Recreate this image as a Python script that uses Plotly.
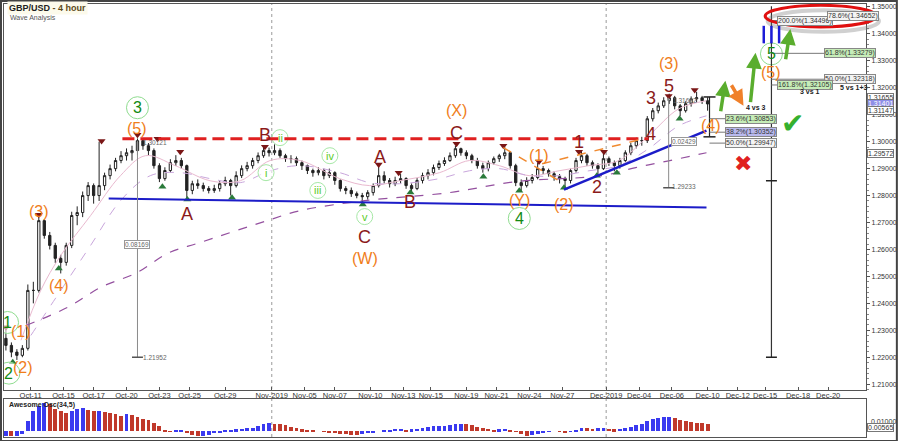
import plotly.graph_objects as go

# ---------------- data ----------------
# bar index is in 4-hour units; one candle is drawn every 8 hours
bar_idx = list(range(0, 258, 2))
first_open = 1.2270
close = [1.2244,1.2219,1.2207,1.2233,1.2448,1.2448,1.2707,1.2652,1.2615,1.2567,
         1.2552,1.2615,1.2726,1.2737,1.2800,1.2837,1.2800,1.2837,1.2874,1.2900,
         1.2930,1.2948,1.2959,1.2967,1.3004,1.2985,1.2967,1.2911,1.2863,1.2893,
         1.2922,1.2930,1.2911,1.2819,1.2844,1.2837,1.2826,1.2819,1.2826,1.2844,
         1.2856,1.2837,1.2874,1.2900,1.2911,1.2930,1.2948,1.2967,1.2959,1.2967,
         1.2948,1.2937,1.2937,1.2922,1.2911,1.2893,1.2885,1.2893,1.2874,1.2885,
         1.2856,1.2826,1.2819,1.2807,1.2800,1.2796,1.2811,1.2837,1.2874,1.2856,
         1.2844,1.2856,1.2863,1.2837,1.2826,1.2856,1.2874,1.2885,1.2904,1.2919,
         1.2930,1.2948,1.2974,1.2959,1.2948,1.2930,1.2911,1.2900,1.2922,1.2937,
         1.2948,1.2959,1.2911,1.2848,1.2837,1.2856,1.2867,1.2900,1.2893,1.2881,
         1.2870,1.2863,1.2856,1.2893,1.2930,1.2948,1.2922,1.2911,1.2900,1.2937,
         1.2922,1.2911,1.2930,1.2959,1.2985,1.3004,1.3004,1.3085,1.3115,1.3133,
         1.3152,1.3163,1.3133,1.3115,1.3141,1.3159,1.3163,1.3152,1.3140]
high = [1.2305,1.2255,1.2230,1.2245,1.2470,1.2480,1.2719,1.2712,1.2665,1.2625,
        1.2580,1.2625,1.2740,1.2760,1.2815,1.2850,1.2845,1.3000,1.2885,1.2915,
        1.2940,1.2965,1.2975,1.2985,1.3012,1.3010,1.2995,1.2975,1.2920,1.2905,
        1.2935,1.2950,1.2940,1.2915,1.2855,1.2860,1.2848,1.2835,1.2840,1.2855,
        1.2870,1.2862,1.2890,1.2912,1.2925,1.2940,1.2960,1.2985,1.2978,1.2990,
        1.2975,1.2955,1.2950,1.2945,1.2930,1.2915,1.2900,1.2905,1.2900,1.2900,
        1.2890,1.2860,1.2835,1.2830,1.2815,1.2810,1.2820,1.2845,1.2918,1.2890,
        1.2865,1.2870,1.2880,1.2868,1.2845,1.2865,1.2885,1.2898,1.2915,1.2930,
        1.2942,1.2960,1.2985,1.2978,1.2968,1.2955,1.2940,1.2922,1.2930,1.2945,
        1.2955,1.2980,1.2965,1.2918,1.2860,1.2868,1.2880,1.2922,1.2910,1.2900,
        1.2890,1.2880,1.2870,1.2900,1.2940,1.2967,1.2955,1.2930,1.2920,1.2965,
        1.2945,1.2930,1.2940,1.2968,1.2995,1.3015,1.3018,1.3095,1.3125,1.3145,
        1.3165,1.3178,1.3170,1.3140,1.3150,1.3168,1.3185,1.3170,1.3165]
low = [1.2225,1.2200,1.2190,1.2200,1.2225,1.2400,1.2440,1.2640,1.2600,1.2550,
       1.2511,1.2540,1.2605,1.2690,1.2720,1.2780,1.2770,1.2780,1.2820,1.2860,
       1.2890,1.2920,1.2930,1.2930,1.2950,1.2970,1.2950,1.2900,1.2850,1.2855,
       1.2885,1.2910,1.2900,1.2790,1.2805,1.2825,1.2815,1.2808,1.2810,1.2815,
       1.2835,1.2800,1.2830,1.2865,1.2890,1.2900,1.2920,1.2940,1.2945,1.2950,
       1.2940,1.2925,1.2920,1.2910,1.2895,1.2880,1.2870,1.2875,1.2860,1.2865,
       1.2840,1.2815,1.2805,1.2795,1.2790,1.2770,1.2785,1.2800,1.2830,1.2845,
       1.2830,1.2835,1.2845,1.2825,1.2810,1.2820,1.2845,1.2860,1.2875,1.2895,
       1.2910,1.2925,1.2940,1.2948,1.2935,1.2920,1.2900,1.2885,1.2890,1.2915,
       1.2925,1.2935,1.2900,1.2835,1.2815,1.2830,1.2845,1.2860,1.2880,1.2870,
       1.2855,1.2845,1.2830,1.2845,1.2885,1.2920,1.2910,1.2900,1.2880,1.2895,
       1.2910,1.2890,1.2900,1.2925,1.2950,1.2975,1.2985,1.2995,1.3075,1.3105,
       1.3125,1.3140,1.3120,1.3095,1.3108,1.3130,1.3145,1.3140,1.3115]

ao = [-0.0035,-0.0038,-0.0035,-0.0020,0.0077,0.0147,0.0185,0.0203,0.0198,0.0165,
      0.0147,0.0133,0.0150,0.0165,0.0168,0.0156,0.0147,0.0147,0.0140,0.0130,
      0.0122,0.0112,0.0126,0.0115,0.0105,0.0092,0.0080,0.0063,0.0035,0.0005,
      -0.0003,0.0004,0.0005,-0.0016,-0.0028,-0.0038,-0.0037,-0.0025,-0.0013,-0.0010,
      0.0002,0.0007,0.0013,0.0018,0.0020,0.0026,0.0040,0.0052,0.0058,0.0056,
      0.0054,0.0044,0.0033,0.0024,0.0014,0.0006,0.0002,0.0000,-0.0004,-0.0008,
      -0.0013,-0.0017,-0.0022,-0.0029,-0.0030,-0.0024,-0.0016,-0.0010,0.0000,0.0006,
      0.0010,0.0015,0.0016,0.0012,0.0014,0.0018,0.0022,0.0030,0.0035,0.0037,
      0.0038,0.0042,0.0049,0.0054,0.0050,0.0042,0.0034,0.0026,0.0016,0.0012,
      0.0014,0.0015,0.0007,-0.0005,-0.0020,-0.0035,-0.0030,-0.0022,-0.0015,-0.0005,
      0.0000,-0.0006,-0.0008,-0.0004,0.0007,0.0026,0.0024,0.0019,0.0023,0.0024,
      0.0019,0.0014,0.0016,0.0024,0.0032,0.0042,0.0054,0.0072,0.0088,0.0097,
      0.0101,0.0105,0.0094,0.0084,0.0077,0.0066,0.0060,0.0057,0.0054]

tick_pos = [9, 21, 32, 44, 56, 67, 80, 97, 109, 120, 133, 145, 155, 168, 179,
            191, 203, 219, 231, 243, 256, 267, 277, 289, 300]
tick_text = ["Oct-11", "Oct-15", "Oct-17", "Oct-20", "Oct-23", "Oct-25", "Oct-29",
             "Nov-2019", "Nov-05", "Nov-07", "Nov-10", "Nov-13", "Nov-15", "Nov-19",
             "Nov-21", "Nov-24", "Nov-27", "Dec-2019", "Dec-04", "Dec-06", "Dec-10",
             "Dec-12", "Dec-15", "Dec-18", "Dec-20"]
price_ticks = [1.21, 1.22, 1.23, 1.24, 1.25, 1.26, 1.27, 1.28, 1.29, 1.30,
               1.31, 1.32, 1.33, 1.34, 1.35]
month_starts = [97, 219]

# moving averages
ma_slow_x = [7.3, 22.5, 34.5, 48, 58.9, 70.9, 95.3, 107.3, 130.9, 161.8, 186.2, 217.5, 229.8, 241.8, 255.6]
ma_slow_y = [1.2318, 1.2385, 1.2459, 1.2515, 1.2585, 1.2626, 1.2707, 1.2744, 1.2781, 1.2811,
             1.2852, 1.2874, 1.2904, 1.2929, 1.2959]
ma_fast_x = [5.5, 12.7, 20, 30.9, 41.8, 50.9, 61.8, 74.5, 85.5, 96.4, 107.3, 121.8, 132.7,
             143.6, 158.2, 169.1, 180, 190.9, 201.8, 212.7, 223.6, 234.5, 245.5, 255.6]
ma_fast_y = [1.2263, 1.2448, 1.2578, 1.2726, 1.2874, 1.2948, 1.2911, 1.2855, 1.2855, 1.2930,
             1.2930, 1.2863, 1.2837, 1.2855, 1.2885, 1.2930, 1.2911, 1.2874, 1.2892, 1.2911,
             1.2930, 1.3022, 1.3122, 1.3152]
ma_mid_x = [9.1, 20, 30.9, 41.8, 52.7, 63.6, 74.5, 85.5, 96.4, 107.3, 121.8, 132.7, 143.6,
            158.2, 169.1, 180, 190.9, 201.8, 212.7, 223.6, 234.5, 245.5, 255.6]
ma_mid_y = [1.2281, 1.2448, 1.2615, 1.2781, 1.2874, 1.2885, 1.2863, 1.2848, 1.2892, 1.2911,
            1.2885, 1.2848, 1.2844, 1.2863, 1.2892, 1.2900, 1.2874, 1.2874, 1.2892, 1.2911,
            1.2974, 1.3059, 1.3096]

# swing markers
peak_x = [0, 12, 34.9, 48, 55.3, 63.6, 94.5, 136, 143.3, 164.4, 181.5, 194.5, 209.1, 218.2, 241.8, 251.3]
peak_y = [1.2311, 1.2729, 1.3003, 1.3026, 1.3011, 1.2963, 1.2981, 1.2915, 1.2885, 1.2992,
          1.2985, 1.2926, 1.2963, 1.2963, 1.3170, 1.3192]
trough_x = [2.5, 19.3, 57.1, 66.2, 82.5, 130.2, 147.6, 174.2, 187.3, 203.6, 215.6, 222.9, 245.8]
trough_y = [1.2181, 1.2529, 1.2833, 1.2785, 1.2792, 1.2767, 1.2811, 1.2870, 1.2818, 1.2829,
            1.2874, 1.2885, 1.3085]

# wave labels
big_green_text = ["1", "2", "3", "4", "5"]
big_green_x = [0.6, 1.1, 48, 187.3, 279.3]
big_green_y = [1.2329, 1.2141, 1.3126, 1.2715, 1.3326]
small_green_text = ["i", "ii", "iii", "iv", "v"]
small_green_x = [94.9, 100, 113.8, 118.2, 130.9]
small_green_y = [1.2885, 1.3015, 1.2819, 1.2948, 1.2722]
orange_text = ["(1)", "(2)", "(3)", "(4)", "(5)", "(X)", "(W)", "(Y)", "(1)", "(2)", "(3)", "(4)", "(5)"]
orange_x = [5.5, 6.2, 12, 19.3, 48, 164.4, 130.9, 187.3, 194.5, 203.6, 241.8, 257.1, 279.3]
orange_y = [1.2296, 1.2163, 1.2740, 1.2466, 1.3048, 1.3115, 1.2566, 1.2781, 1.2948, 1.2766,
            1.3292, 1.3059, 1.3256]
red_text = ["A", "B", "C", "A", "B", "C", "1", "2", "3", "4", "5"]
red_x = [66.2, 94.5, 164.4, 136.4, 147.6, 130.9, 209.1, 215.6, 235.3, 235.3, 241.8]
red_y = [1.2733, 1.3026, 1.3033, 1.2944, 1.2778, 1.2648, 1.2999, 1.2833, 1.3163, 1.3029, 1.3207]

# fibonacci boxes
fib_text = ["200.0%(1.34496)", "78.6%(1.34652)", "61.8%(1.33279)", "50.0%(1.32318)",
            "161.8%(1.32105)", "23.6%(1.30853)", "38.2%(1.30352)", "50.0%(1.29947)"]
fib_level = [1.34496, 1.34652, 1.33279, 1.32318, 1.32105, 1.30853, 1.30352, 1.29947]
fib_x = [281.5, 299.6, 298.5, 298.5, 281.5, 262.5, 262.5, 262.5]
fib_from = [279.3, 299.6, 279.3, 279.3, 279.3, 256.7, 256.7, 256.7]
fib_bg = ["#f4f4f4", "#f4f4f4", "#c6edb8", "#f4f4f4", "#c6edb8", "#c6edb8", "#b9b9ee", "#f4f4f4"]

# key lines
resistance = 1.3011
support_x = [37.5, 255.6]
support_y = [1.2789, 1.2756]
rising_x = [203.6, 255.6]
rising_y = [1.2822, 1.3041]
orange_down_x = [181.5, 203.6]
orange_down_y = [1.2978, 1.2844]
orange_up_x = [195.6, 232.7]
orange_up_y = [1.2918, 1.3011]

right_tags = ["1.31655", "1.31401", "1.31147", "1.29572"]
right_tag_y = [1.31655, 1.31401, 1.31147, 1.29572]

# ---------------- figure ----------------
opens = [first_open] + close[:-1]
fig = go.Figure()

fig.add_trace(go.Candlestick(
    x=bar_idx, open=opens, high=high, low=low, close=close,
    increasing=dict(line=dict(color="#222222", width=1), fillcolor="#ffffff"),
    decreasing=dict(line=dict(color="#222222", width=1), fillcolor="#222222"),
    whiskerwidth=0, showlegend=False, hoverinfo="skip", xaxis="x", yaxis="y"))

fig.add_trace(go.Scatter(x=ma_fast_x, y=ma_fast_y, mode="lines", line=dict(color="#e9b9cf", width=1, shape="spline"),
                         showlegend=False, hoverinfo="skip"))
fig.add_trace(go.Scatter(x=ma_mid_x, y=ma_mid_y, mode="lines",
                         line=dict(color="#c9a6dc", width=1, dash="dash", shape="spline"),
                         showlegend=False, hoverinfo="skip"))
fig.add_trace(go.Scatter(x=ma_slow_x, y=ma_slow_y, mode="lines",
                         line=dict(color="#94509f", width=1.2, dash="dash", shape="spline"),
                         showlegend=False, hoverinfo="skip"))

# AO histogram
ao_colors = ["#3a3af0"] + ["#3a3af0" if ao[i] >= ao[i - 1] else "#c0392b" for i in range(1, len(ao))]
fig.add_trace(go.Bar(x=bar_idx, y=ao, marker=dict(color=ao_colors, line=dict(width=0)), width=1.4,
                     xaxis="x2", yaxis="y2", showlegend=False, hoverinfo="skip"))

shapes = []
# month separators
for m in month_starts:
    shapes.append(dict(type="line", xref="x", yref="paper", x0=m, x1=m, y0=0, y1=1,
                       line=dict(color="#9a9a9a", width=1, dash="dot"), layer="below"))
# resistance
shapes.append(dict(type="line", xref="x", yref="y", x0=42.5, x1=234.5, y0=resistance, y1=resistance,
                   line=dict(color="#e02020", width=3, dash="12px,6px")))
shapes.append(dict(type="line", xref="x", yref="y", x0=support_x[0], x1=support_x[1], y0=support_y[0], y1=support_y[1],
                   line=dict(color="#1c1cc8", width=2)))
shapes.append(dict(type="line", xref="x", yref="y", x0=rising_x[0], x1=rising_x[1], y0=rising_y[0], y1=rising_y[1],
                   line=dict(color="#1c1cc8", width=2.5)))
shapes.append(dict(type="line", xref="x", yref="y", x0=orange_down_x[0], x1=orange_down_x[1],
                   y0=orange_down_y[0], y1=orange_down_y[1], line=dict(color="#f08a30", width=1.5, dash="dash")))
shapes.append(dict(type="line", xref="x", yref="y", x0=orange_up_x[0], x1=orange_up_x[1],
                   y0=orange_up_y[0], y1=orange_up_y[1], line=dict(color="#f08a30", width=1.5, dash="dash")))
# measurement lines
shapes.append(dict(type="line", xref="x", yref="y", x0=48, x1=48, y0=1.3003, y1=1.2200,
                   line=dict(color="#8a8a8a", width=1)))
shapes.append(dict(type="line", xref="x", yref="y", x0=46, x1=50, y0=1.2200, y1=1.2200,
                   line=dict(color="#555", width=1.5)))
shapes.append(dict(type="line", xref="x", yref="y", x0=241.8, x1=241.8, y0=1.3163, y1=1.2829,
                   line=dict(color="#8a8a8a", width=1)))
shapes.append(dict(type="line", xref="x", yref="y", x0=239.8, x1=243.8, y0=1.2829, y1=1.2829,
                   line=dict(color="#555", width=1.5)))
shapes.append(dict(type="line", xref="x", yref="y", x0=279.3, x1=279.3, y0=1.3503, y1=1.2200,
                   line=dict(color="#333", width=1.2)))
for lv in [1.2855, 1.2200]:
    shapes.append(dict(type="line", xref="x", yref="y", x0=277.3, x1=281.3, y0=lv, y1=lv,
                       line=dict(color="#222", width=1.5)))
shapes.append(dict(type="line", xref="x", yref="y", x0=256.7, x1=256.7, y0=1.3166, y1=1.3018,
                   line=dict(color="#222", width=1.2)))
for lv in [1.3166, 1.3018]:
    shapes.append(dict(type="line", xref="x", yref="y", x0=254.5, x1=258.9, y0=lv, y1=lv,
                       line=dict(color="#222", width=1.5)))
for fx0, fx1, fl in zip(fib_from, fib_x, fib_level):
    if fx1 > fx0:
        shapes.append(dict(type="line", xref="x", yref="y", x0=fx0, x1=fx1, y0=fl, y1=fl,
                           line=dict(color="#777", width=1)))
# red ellipse with shadow
shapes.append(dict(type="circle", xref="paper", yref="y", x0=0.886, x1=1.015, y0=1.3408, y1=1.3488,
                   line=dict(color="rgba(120,120,120,0.35)", width=4)))
shapes.append(dict(type="circle", xref="paper", yref="y", x0=0.883, x1=1.012, y0=1.3426, y1=1.3506,
                   line=dict(color="#e01010", width=3)))
# blue III
for bx in [276.5, 279.3, 282.1]:
    shapes.append(dict(type="line", xref="x", yref="y", x0=bx, x1=bx, y0=1.3365, y1=1.3430,
                       line=dict(color="#1c1cd8", width=2.5)))

# markers
fig.add_trace(go.Scatter(x=peak_x, y=peak_y, mode="markers",
                         marker=dict(symbol="triangle-down", size=7, color="#7a1616"),
                         showlegend=False, hoverinfo="skip"))
fig.add_trace(go.Scatter(x=trough_x, y=trough_y, mode="markers",
                         marker=dict(symbol="triangle-up", size=7, color="#2a7a3a"),
                         showlegend=False, hoverinfo="skip"))
fig.add_trace(go.Scatter(x=big_green_x, y=big_green_y, mode="markers",
                         marker=dict(symbol="circle", size=22, color="rgba(255,255,255,0.6)",
                                     line=dict(color="#8fdc8f", width=1)),
                         showlegend=False, hoverinfo="skip"))
fig.add_trace(go.Scatter(x=small_green_x, y=small_green_y, mode="markers",
                         marker=dict(symbol="circle", size=16, color="rgba(255,255,255,0.6)",
                                     line=dict(color="#a6e8a6", width=1)),
                         showlegend=False, hoverinfo="skip"))

ann = []
F = "Liberation Sans, Arial, sans-serif"
for t, x, y in zip(big_green_text, big_green_x, big_green_y):
    ann.append(dict(x=x, y=y, xref="x", yref="y", text=t, showarrow=False,
                    font=dict(family=F, size=16, color="#138a13")))
for t, x, y in zip(small_green_text, small_green_x, small_green_y):
    ann.append(dict(x=x, y=y, xref="x", yref="y", text=t, showarrow=False,
                    font=dict(family=F, size=11, color="#5ccc2a")))
for t, x, y in zip(orange_text, orange_x, orange_y):
    ann.append(dict(x=x, y=y, xref="x", yref="y", text=t, showarrow=False,
                    font=dict(family=F, size=16, color="#f07d1a")))
for t, x, y in zip(red_text, red_x, red_y):
    ann.append(dict(x=x, y=y, xref="x", yref="y", text=t, showarrow=False,
                    font=dict(family=F, size=18, color="#8b1a1a")))
for t, x, y, bg in zip(fib_text, fib_x, fib_level, fib_bg):
    ann.append(dict(x=x, y=y, xref="x", yref="y", text=t, showarrow=False, xanchor="left",
                    font=dict(family=F, size=7, color="#333"), bgcolor=bg,
                    bordercolor="#888", borderwidth=1, borderpad=0))
# measurement labels
small_lbl = [("0.08169", 48, 1.2618, True), ("1.21952", 50, 1.2200, False),
             ("1.30121", 50, 1.2996, False), ("0.02429", 242.5, 1.2999, True),
             ("1.29233", 243, 1.2833, False), ("1.31662", 243.5, 1.3152, False)]
for t, x, y, boxed in small_lbl:
    ann.append(dict(x=x, y=y, xref="x", yref="y", text=t, showarrow=False,
                    xanchor="center" if t == "0.08169" else "left",
                    font=dict(family=F, size=6.5, color="#666"),
                    bgcolor="#ffffff" if boxed else None,
                    bordercolor="#999" if boxed else None, borderwidth=1 if boxed else 0, borderpad=0))
ann.append(dict(x=293.5, y=1.3185, xref="x", yref="y", text="<b>3 vs 1</b>", showarrow=False,
                font=dict(family=F, size=7, color="#222")))
ann.append(dict(x=273.5, y=1.3128, xref="x", yref="y", text="<b>4 vs 3</b>", showarrow=False,
                font=dict(family=F, size=7, color="#222")))
ann.append(dict(x=0.9676, y=1.3200, xref="paper", yref="y", xanchor="left", text="<b>5 vs 1+3</b>",
                showarrow=False, font=dict(family=F, size=7, color="#222")))
# arrows
arrows = [(262.5, 1.3226, 260.7, 1.3107, "#5aad2e"), (273.5, 1.3330, 271.6, 1.3141, "#5aad2e"),
          (286.2, 1.3418, 284.4, 1.3300, "#5aad2e"), (269.1, 1.3133, 264.4, 1.3215, "#f0802a")]
for hx, hy, tx, ty, c in arrows:
    ann.append(dict(x=hx, y=hy, ax=tx, ay=ty, xref="x", yref="y", axref="x", ayref="y", text="",
                    showarrow=True, arrowhead=2, arrowsize=0.9, arrowwidth=3.5, arrowcolor=c))
# check and cross
ann.append(dict(x=287, y=1.3067, xref="x", yref="y", text="✔", showarrow=False,
                font=dict(size=28, color="#35b02e")))
ann.append(dict(x=269.1, y=1.2918, xref="x", yref="y", text="✖", showarrow=False,
                font=dict(size=22, color="#e02020")))
# right price tags
tag_bg = ["#ffffff", "#8f8fe6", "#ffffff", "#ffffff"]
tag_fc = ["#333", "#ffffff", "#333", "#333"]
for t, y, bg, fc in zip(right_tags, right_tag_y, tag_bg, tag_fc):
    ann.append(dict(x=1.0012, y=y, xref="paper", yref="y", text=t, showarrow=False, xanchor="left",
                    font=dict(family=F, size=7, color=fc), bgcolor=bg,
                    bordercolor="#777", borderwidth=1, borderpad=0))
ann.append(dict(x=1.004, y=0.024, xref="paper", yref="paper", text="0.01000", showarrow=False,
                xanchor="left", font=dict(family=F, size=7, color="#333")))
ann.append(dict(x=1.0012, y=0.011, xref="paper", yref="paper", text="0.00565", showarrow=False,
                xanchor="left", font=dict(family=F, size=7, color="#333"), bgcolor="#ffffff",
                bordercolor="#777", borderwidth=1, borderpad=0))
# titles
ann.append(dict(x=0.004, y=0.99, xref="paper", yref="paper", xanchor="left", yanchor="middle",
                text="<b>GBP/USD</b> <b><span style='color:#5c4a1a'>- 4 hour</span></b>",
                showarrow=False, font=dict(family=F, size=9, color="#222"), bgcolor="#fcfaeb"))
ann.append(dict(x=0.005, y=0.968, xref="paper", yref="paper", xanchor="left", yanchor="middle",
                text="Wave Analysis", showarrow=False, font=dict(family=F, size=7, color="#555")))
ann.append(dict(x=0.004, y=0.074, xref="paper", yref="paper", xanchor="left", yanchor="middle",
                text="<b>Awesome Osc(34,5)</b>", showarrow=False, font=dict(family=F, size=7, color="#222")))

axis_common = dict(showgrid=False, zeroline=False, showline=True, linecolor="#555", linewidth=1, mirror=True)
fig.update_layout(
    width=900, height=441,
    margin=dict(l=3, r=32, t=3, b=4),
    paper_bgcolor="#ffffff", plot_bgcolor="#ffffff",
    showlegend=False, boxgap=0.4, bargap=0,
    font=dict(family=F, size=8, color="#333"),
    xaxis=dict(domain=[0, 1], anchor="y", range=[-0.7, 313.8], tickvals=tick_pos, ticktext=tick_text,
               ticks="inside", ticklen=3, tickcolor="#555", tickangle=0, ticklabelstandoff=-2,
               tickfont=dict(size=7.5, color="#333"),
               rangeslider=dict(visible=False), **axis_common),
    yaxis=dict(domain=[0.1083, 1], anchor="x", side="right", range=[1.2078, 1.3511],
               tickvals=price_ticks, ticktext=["%.5f" % p for p in price_ticks],
               ticks="outside", ticklen=3, tickcolor="#555", tickfont=dict(size=7, color="#333"),
               minor=dict(ticks="outside", ticklen=2, dtick=0.002, tickcolor="#888"), **axis_common),
    xaxis2=dict(domain=[0, 1], anchor="y2", matches="x", showticklabels=False, ticks="", **axis_common),
    yaxis2=dict(domain=[0, 0.0876], anchor="x2", side="right", range=[-0.0042, 0.0235],
                showticklabels=False, ticks="", **axis_common),
    shapes=shapes + [dict(type="rect", xref="paper", yref="paper", x0=-0.0035, x1=1.0358, y0=-0.0092, y1=1.0069,
                          line=dict(color="#444", width=2))],
    annotations=ann,
)

fig.write_html("out.html", config={"displayModeBar": False},
               post_script="document.body.style.margin='0px';document.body.style.overflow='hidden';")
